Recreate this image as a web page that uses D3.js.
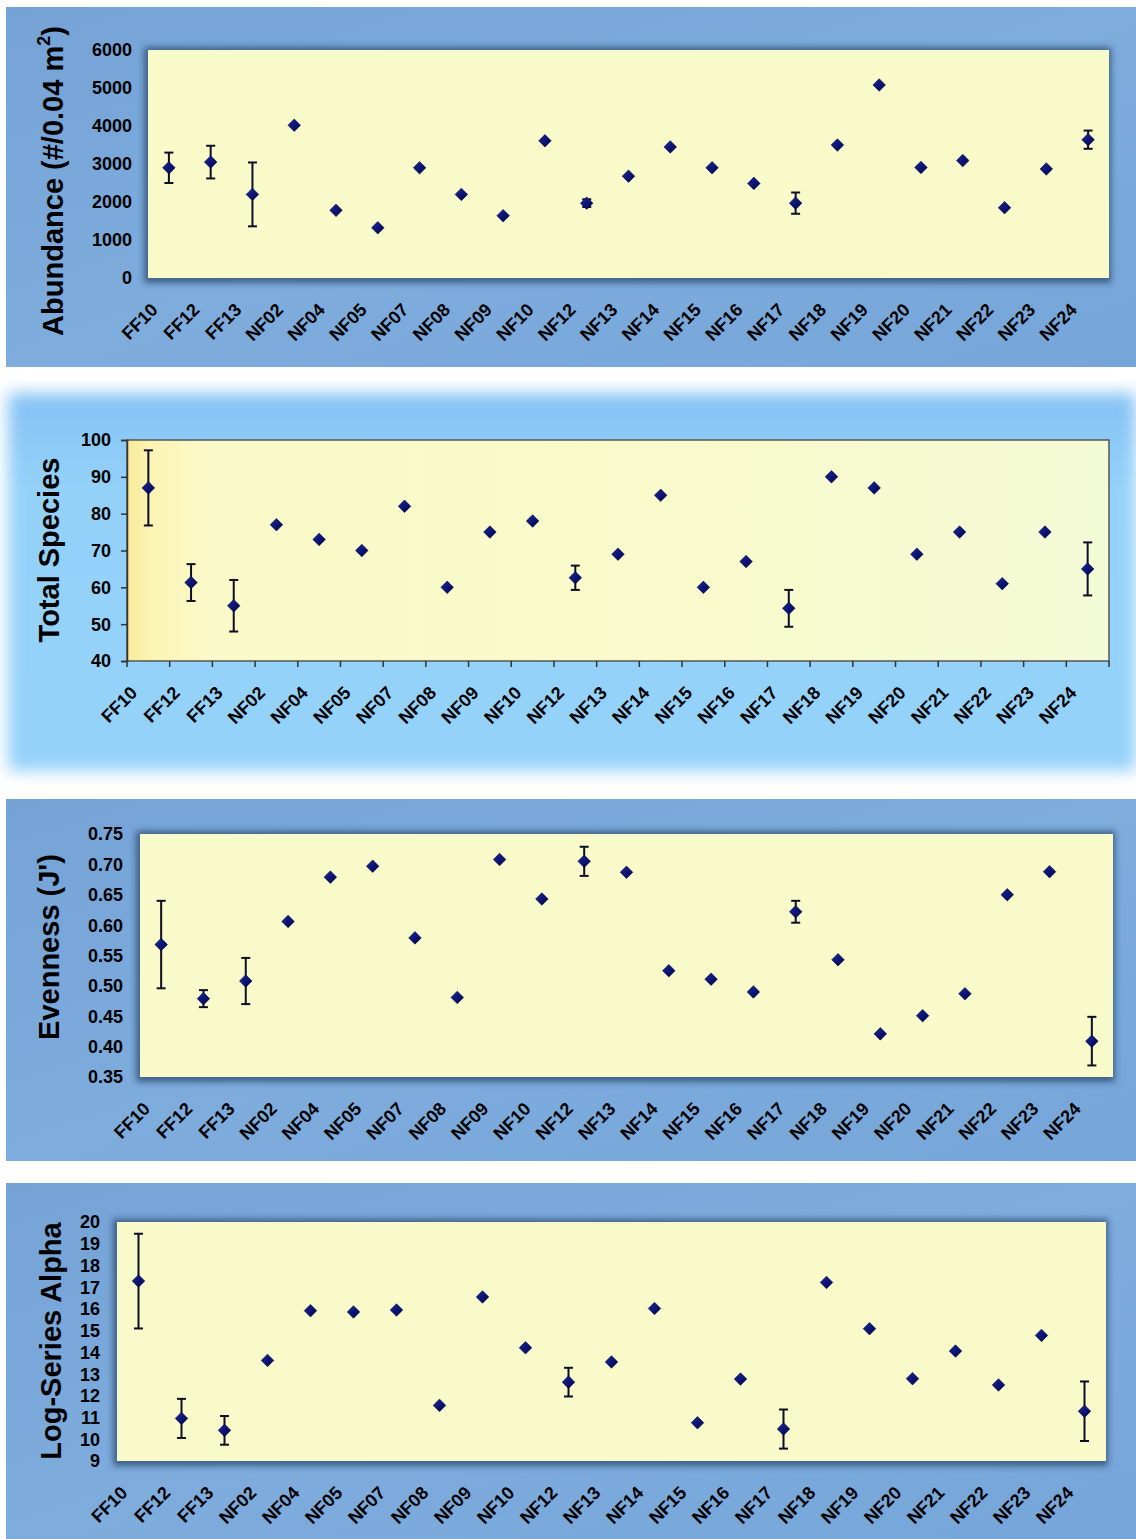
<!DOCTYPE html>
<html><head><meta charset="utf-8">
<script src="https://cdn.jsdelivr.net/npm/d3@7"></script>
<style>html,body{margin:0;padding:0;background:#fff}svg{display:block}text{font-family:Arial,"Liberation Sans",sans-serif;font-weight:bold;fill:#000}</style>
</head><body>
<svg id="chart" width="1136" height="1539"></svg>
<script>
const categories = ["FF10","FF12","FF13","NF02","NF04","NF05","NF07","NF08","NF09","NF10","NF12","NF13","NF14","NF15","NF16","NF17","NF18","NF19","NF20","NF21","NF22","NF23","NF24"];

const abundance    = [2900,3050,2200,4020,1780,1320,2900,2200,1640,3610,1970,2680,3450,2900,2490,1970,3500,5080,2910,3090,1850,2870,3640];
const abundanceErr = [400,430,840,null,null,null,null,null,null,null,100,null,null,null,null,280,null,null,null,null,null,null,240];
const abundanceTicks = [0,1000,2000,3000,4000,5000,6000];

const species    = [87,61.3,55,77,73,70,82,60,75,78,62.6,69,85,60,67,54.3,90,87,69,75,61,75,65];
const speciesErr = [10.2,5,7,null,null,null,null,null,null,null,3.3,null,null,null,null,5,null,null,null,null,null,null,7.2];
const speciesTicks = [40,50,60,70,80,90,100];

const evenness    = [0.568,0.479,0.508,0.606,0.679,0.697,0.579,0.481,0.708,0.643,0.705,0.687,0.525,0.511,0.490,0.622,0.543,0.421,0.451,0.487,0.650,0.688,0.409];
const evennessErr = [0.072,0.014,0.038,null,null,null,null,null,null,null,0.024,null,null,null,null,0.018,null,null,null,null,null,null,0.040];
const evennessTicks = [0.35,0.40,0.45,0.50,0.55,0.60,0.65,0.70,0.75];

const alpha    = [17.28,10.96,10.41,13.63,15.92,15.86,15.95,11.56,16.55,14.21,12.63,13.56,16.02,10.76,12.77,10.47,17.22,15.09,12.79,14.06,12.50,14.78,11.29];
const alphaErr = [2.18,0.9,0.66,null,null,null,null,null,null,null,0.66,null,null,null,null,0.9,null,null,null,null,null,null,1.37];
const alphaTicks = [9,10,11,12,13,14,15,16,17,18,19,20];

const svg = d3.select("#chart");
const defs = svg.append("defs");

const mg = defs.append("linearGradient").attr("id","mk").attr("x1","0").attr("y1","0").attr("x2","1").attr("y2","1");
mg.append("stop").attr("offset","0").attr("stop-color","#1a2a9a");
mg.append("stop").attr("offset","1").attr("stop-color","#000050");

const pg = defs.append("linearGradient").attr("id","plot2").attr("x1","0").attr("y1","0").attr("x2","1").attr("y2","0");
pg.append("stop").attr("offset","0").attr("stop-color","#f8ea98");
pg.append("stop").attr("offset","0.025").attr("stop-color","#fbf4b4");
pg.append("stop").attr("offset","0.08").attr("stop-color","#fafac8");
pg.append("stop").attr("offset","0.6").attr("stop-color","#f9fbcc");
pg.append("stop").attr("offset","1").attr("stop-color","#f3fad6");

const bg2 = defs.append("linearGradient").attr("id","bg2").attr("x1","0").attr("y1","0").attr("x2","0").attr("y2","1");
bg2.append("stop").attr("offset","0").attr("stop-color","#84c2f4");
bg2.append("stop").attr("offset","0.25").attr("stop-color","#94d1f9");
bg2.append("stop").attr("offset","1").attr("stop-color","#95d2fa");

const bgBlue = defs.append("linearGradient").attr("id","bgBlue").attr("x1","0").attr("y1","0").attr("x2","1").attr("y2","1");
bgBlue.append("stop").attr("offset","0").attr("stop-color","#75a3d6");
bgBlue.append("stop").attr("offset","0.5").attr("stop-color","#7eacdd");
bgBlue.append("stop").attr("offset","1").attr("stop-color","#76a5d9");

defs.append("filter").attr("id","blur3").attr("x","-10%").attr("y","-10%").attr("width","120%").attr("height","120%")
  .append("feGaussianBlur").attr("stdDeviation",3);
defs.append("filter").attr("id","blur8").attr("x","-10%").attr("y","-10%").attr("width","120%").attr("height","120%")
  .append("feGaussianBlur").attr("stdDeviation",8);

const panels = [
  {bg:{x:6,y:7,w:1130,h:360,fill:"url(#bgBlue)",soft:false},
   plot:{x0:148,x1:1109,y0:50,y1:278}, domain:[0,6000], ticks:abundanceTicks, fmt:d3.format("d"),
   values:abundance, errs:abundanceErr, tickRight:132, title:["Abundance (#/0.04 m","2",")"], titleX:63, titleY:181, style:"shadow"},
  {bg:{x:8,y:393,w:1128,h:378,fill:"url(#bg2)",soft:true},
   plot:{x0:127,x1:1109,y0:440,y1:661}, domain:[40,100], ticks:speciesTicks, fmt:d3.format("d"),
   values:species, errs:speciesErr, tickRight:111, title:["Total Species"], titleX:59, titleY:550, style:"frame"},
  {bg:{x:6,y:799,w:1130,h:362,fill:"url(#bgBlue)",soft:false},
   plot:{x0:140,x1:1113,y0:834,y1:1077}, domain:[0.35,0.75], ticks:evennessTicks, fmt:d3.format(".2f"),
   values:evenness, errs:evennessErr, tickRight:123, title:["Evenness (J')"], titleX:59, titleY:947, style:"shadow"},
  {bg:{x:6,y:1183,w:1130,h:356,fill:"url(#bgBlue)",soft:false},
   plot:{x0:117,x1:1106,y0:1222,y1:1461}, domain:[9,20], ticks:alphaTicks, fmt:d3.format("d"),
   values:alpha, errs:alphaErr, tickRight:100, title:["Log-Series Alpha"], titleX:61, titleY:1341, style:"shadow"}
];

panels.forEach((p,pi) => {
  const g = svg.append("g");
  if (p.bg.soft) {
    g.append("rect").attr("x",p.bg.x).attr("y",p.bg.y).attr("width",p.bg.w).attr("height",p.bg.h)
      .attr("fill",p.bg.fill).attr("filter","url(#blur8)");
  } else {
    g.append("rect").attr("x",p.bg.x).attr("y",p.bg.y).attr("width",p.bg.w).attr("height",p.bg.h).attr("fill",p.bg.fill);
  }
  const P = p.plot;
  const x = d3.scaleBand().domain(categories).range([P.x0,P.x1]).padding(0);
  const y = d3.scaleLinear().domain(p.domain).range([P.y1,P.y0]);

  if (p.style === "shadow") {
    g.append("rect").attr("x",P.x0-4).attr("y",P.y0-3).attr("width",P.x1-P.x0+6).attr("height",P.y1-P.y0+8)
      .attr("fill","#2c4a6c").attr("opacity",0.75).attr("filter","url(#blur3)");
    g.append("rect").attr("x",P.x0).attr("y",P.y0).attr("width",P.x1-P.x0).attr("height",P.y1-P.y0).attr("fill","#f8fbc9");
  } else {
    g.append("rect").attr("x",P.x0).attr("y",P.y0).attr("width",P.x1-P.x0).attr("height",P.y1-P.y0)
      .attr("fill","url(#plot2)").attr("stroke","#555").attr("stroke-width",1.5);
    const ya = d3.axisLeft(y).tickValues(p.ticks).tickSize(6).tickFormat("");
    const yg = g.append("g").attr("transform",`translate(${P.x0},0)`).call(ya);
    yg.select(".domain").attr("stroke","#333").attr("stroke-width",1.5);
    yg.selectAll(".tick line").attr("stroke","#333").attr("stroke-width",1.5);
    const bounds = categories.map(c => x(c)).concat([x(categories[categories.length-1]) + x.bandwidth()]);
    g.selectAll(null).data(bounds).enter().append("line")
      .attr("x1",d=>d).attr("x2",d=>d).attr("y1",P.y1).attr("y2",P.y1+6)
      .attr("stroke","#333").attr("stroke-width",1.5);
  }

  g.selectAll(null).data(p.ticks).enter().append("text")
    .attr("x",p.tickRight).attr("y",d=>y(d)).attr("dy","0.36em")
    .attr("text-anchor","end").attr("font-size",18).text(d=>p.fmt(d));

  g.selectAll(null).data(categories).enter().append("text")
    .attr("transform",d=>`translate(${x(d)+x.bandwidth()/2-10},${P.y1+33}) rotate(-45)`)
    .attr("text-anchor","end").attr("font-size",18).text(d=>d);

  const t = g.append("text").attr("transform",`translate(${p.titleX},${p.titleY}) rotate(-90)`)
    .attr("text-anchor","middle").attr("font-size",29);
  if (p.title.length === 3) {
    t.append("tspan").text(p.title[0]);
    t.append("tspan").attr("font-size",18).attr("dy",-13).text(p.title[1]);
    t.append("tspan").attr("dy",13).text(p.title[2]);
  } else {
    t.text(p.title[0]);
  }

  const eb = categories.map((c,i)=>({c, v:p.values[i], e:p.errs[i]})).filter(d=>d.e!=null);
  const cx = d => x(d.c)+x.bandwidth()/2;
  g.selectAll(null).data(eb).enter().append("line")
    .attr("x1",cx).attr("x2",cx).attr("y1",d=>y(d.v+d.e)).attr("y2",d=>y(d.v-d.e))
    .attr("stroke","#0d0d26").attr("stroke-width",2);
  [1,-1].forEach(s=>{
    g.selectAll(null).data(eb).enter().append("line")
      .attr("x1",d=>cx(d)-4.5).attr("x2",d=>cx(d)+4.5)
      .attr("y1",d=>y(d.v+s*d.e)).attr("y2",d=>y(d.v+s*d.e))
      .attr("stroke","#0d0d26").attr("stroke-width",2);
  });

  const sym = d3.symbol().type(d3.symbolDiamond2).size(100);
  g.selectAll(null).data(categories.map((c,i)=>({c,v:p.values[i]}))).enter().append("path")
    .attr("d",sym)
    .attr("transform",d=>`translate(${x(d.c)+x.bandwidth()/2},${y(d.v)})`)
    .attr("fill","url(#mk)").attr("stroke","#000040").attr("stroke-width",0.6);
});
</script>
</body></html>
